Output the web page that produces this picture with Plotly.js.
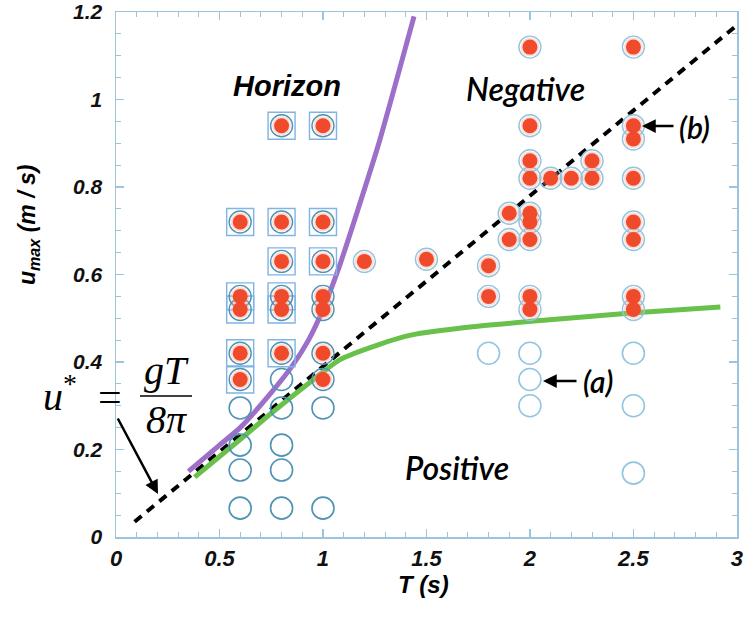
<!DOCTYPE html>
<html>
<head>
<meta charset="utf-8">
<script src="https://cdn.plot.ly/plotly-3.0.1.min.js"></script>
<style>html,body{margin:0;padding:0;background:#fff;}#chart{width:744px;height:620px;}</style>
</head>
<body>
<div id="chart"></div>
<script>
// ---- data ----
var filledT = [0.6,0.6,0.6,0.6,0.6,
               0.8,0.8,0.8,0.8,0.8,0.8,
               1.0,1.0,1.0,1.0,1.0,1.0,1.0,
               1.2,1.5,1.8,1.8,1.9,1.9,
               2.0,2.0,2.0,2.0,2.0,2.0,2.0,2.0,2.0,
               2.1,2.2,2.3,2.3,
               2.5,2.5,2.5,2.5,2.5,2.5,2.5,2.5];
var filledU = [0.72,0.55,0.52,0.42,0.36,
               0.94,0.72,0.63,0.55,0.52,0.42,
               0.94,0.72,0.63,0.55,0.52,0.42,0.36,
               0.63,0.635,0.62,0.55,0.74,0.68,
               1.12,0.94,0.86,0.82,0.74,0.72,0.68,0.55,0.52,
               0.82,0.82,0.86,0.82,
               1.12,0.94,0.91,0.82,0.72,0.68,0.55,0.52];
var openT = [0.6,0.6,0.6,0.6,
             0.8,0.8,0.8,0.8,0.8,
             1.0,1.0,
             1.8,2.0,2.0,2.0,
             2.5,2.5,2.5];
var openU = [0.295,0.21,0.153,0.066,
             0.36,0.295,0.21,0.153,0.066,
             0.295,0.066,
             0.42,0.42,0.36,0.30,
             0.42,0.30,0.146];
var squareT = [0.6,0.6,0.6,0.6,0.6, 0.8,0.8,0.8,0.8,0.8,0.8, 1.0,1.0,1.0];
var squareU = [0.72,0.55,0.52,0.42,0.36, 0.94,0.72,0.63,0.55,0.52,0.42, 0.94,0.72,0.63];
var purpleT = [0.35,0.5,0.6,0.75,0.85,0.93,1.0,1.08,1.17,1.27,1.44];
var purpleU = [0.15,0.21,0.25,0.33,0.39,0.45,0.52,0.62,0.75,0.90,1.19];
var greenT = [0.38,0.6,0.75,0.97,1.08,1.27,1.43,1.71,2.08,2.49,2.92];
var greenU = [0.137,0.223,0.283,0.366,0.405,0.440,0.462,0.480,0.496,0.512,0.526];
var dashT = [0.09,3.0];
var dashU = [0.035,1.17];
var xTickVals = [0,0.5,1,1.5,2,2.5,3];
var xTickText = ['0','0.5','1','1.5','2','2.5','3'];
var yTickVals = [0,0.2,0.4,0.6,0.8,1,1.2];
var yTickText = ['0','0.2','0.4','0.6','0.8','1','1.2'];

// ---- helpers ----
var L = 116, R = 737, T0 = 12, B = 537;
function PX(p){ return (p - L) / (R - L); }
function PY(p){ return (B - p) / (B - T0); }
function ringColor(t){ return t <= 1.0 ? '#4f93b6' : '#92c5e0'; }

var traces = [];
traces.push({x: dashT, y: dashU, mode: 'lines', line: {color: '#000', width: 4, dash: '9px,7px'}, hoverinfo: 'skip'});
traces.push({x: purpleT, y: purpleU, mode: 'lines', line: {color: '#9d6fc9', width: 5, shape: 'spline', smoothing: 0.6}, hoverinfo: 'skip'});
traces.push({x: greenT, y: greenU, mode: 'lines', line: {color: '#69c04a', width: 5, shape: 'spline', smoothing: 0.6}, hoverinfo: 'skip'});
traces.push({x: squareT, y: squareU, mode: 'markers', marker: {symbol: 'square-open', size: 27, color: '#7fb4e6', line: {width: 1.4, color: '#7fb4e6'}}, hoverinfo: 'skip'});
traces.push({x: openT, y: openU, mode: 'markers', marker: {symbol: 'circle-open', size: 22, color: openT.map(ringColor), line: {width: 1.6}}, hoverinfo: 'skip'});
traces.push({x: filledT, y: filledU, mode: 'markers', marker: {symbol: 'circle-open', size: 22, color: filledT.map(ringColor), line: {width: 1.4}}, hoverinfo: 'skip'});
traces.push({x: filledT, y: filledU, mode: 'markers', marker: {symbol: 'circle', size: 19, color: 'rgba(248,160,140,0.35)', line: {width: 0}}, hoverinfo: 'skip'});
traces.push({x: filledT, y: filledU, mode: 'markers', marker: {symbol: 'circle', size: 15, color: '#ef4a2b', line: {width: 0}}, hoverinfo: 'skip'});

var axisCommon = {
  showline: true, mirror: 'ticks', linecolor: '#9cc4df', linewidth: 1.5,
  ticks: 'inside', ticklen: 8, tickwidth: 1.2, tickcolor: '#9cc4df',
  showgrid: false, zeroline: false
};
var xaxis = Object.assign({}, axisCommon, {range: [0, 3.0005], tickmode: 'array', tickvals: xTickVals, ticktext: xTickText, ticklabelstandoff: 1,
  tickfont: {family: 'Liberation Sans, Arial, sans-serif', size: 22, color: '#111', style: 'italic', weight: 'bold'},
  minor: {dtick: 0.1, ticks: 'inside', ticklen: 5, tickcolor: '#9cc4df', tickwidth: 1}});
var yaxis = Object.assign({}, axisCommon, {range: [0, 1.2002], tickmode: 'array', tickvals: yTickVals, ticktext: yTickText, ticklabelstandoff: 8,
  tickfont: {family: 'Liberation Sans, Arial, sans-serif', size: 21, color: '#111', style: 'italic', weight: 'bold'},
  minor: {dtick: 0.05, ticks: 'inside', ticklen: 5, tickcolor: '#9cc4df', tickwidth: 1}});

var gill = 'Lato, Open Sans, sans-serif';
var serif = 'Liberation Serif, DejaVu Serif, serif';
function txt(text, px, py, font, extra){
  return Object.assign({text: text, xref: 'paper', yref: 'paper', x: PX(px), y: PY(py), xanchor: 'center', yanchor: 'middle', showarrow: false, font: font}, extra || {});
}
function arrow(hx, hy, tx, ty){
  return {text: '', xref: 'paper', yref: 'paper', x: PX(hx), y: PY(hy), axref: 'pixel', ayref: 'pixel', ax: tx - hx, ay: ty - hy,
    showarrow: true, arrowhead: 2, arrowsize: 1.1, arrowwidth: 2.5, arrowcolor: '#000'};
}

var annotations = [
  txt('Horizon', 287, 86, {family: 'Liberation Sans, Arial, sans-serif', size: 29, color: '#000', style: 'italic', weight: 'bold'}),
  txt('Negative', 525, 88, {family: gill, size: 32, color: '#000', style: 'italic', weight: 600}),
  txt('Positive', 457, 467, {family: gill, size: 32, color: '#000', style: 'italic', weight: 600}),
  txt('(b)', 694, 127, {family: gill, size: 30, color: '#000', style: 'italic', weight: 600}),
  txt('(a)', 598, 381, {family: gill, size: 30, color: '#000', style: 'italic', weight: 600}),
  arrow(642, 126, 675, 126),
  arrow(543, 381, 578, 381),
  arrow(158, 494, 117, 417),
  txt('<i>u</i><sup>*</sup>', 60, 393, {family: serif, size: 40, color: '#000'}),
  txt('=', 110, 397, {family: serif, size: 42, color: '#000'}),
  txt('<i>gT</i>', 166, 370, {family: serif, size: 40, color: '#000'}),
  txt('<i>8π</i>', 166, 419, {family: serif, size: 40, color: '#000'}),
  txt('<b><i>T (s)</i></b>', 423, 584, {family: 'Liberation Sans, Arial, sans-serif', size: 24, color: '#000'}),
  txt('<b><i>u<sub>max</sub> (m / s)</i></b>', 28, 225, {family: 'Liberation Sans, Arial, sans-serif', size: 23, color: '#000'}, {textangle: -90})
];

var shapes = [
  {type: 'line', xref: 'paper', yref: 'paper', x0: PX(140), x1: PX(192), y0: PY(396), y1: PY(396), line: {color: '#000', width: 1.5}}
];

var layout = {
  width: 744, height: 620,
  margin: {l: L, r: 744 - R, t: T0, b: 620 - B},
  paper_bgcolor: '#fff', plot_bgcolor: '#fff',
  showlegend: false,
  xaxis: xaxis, yaxis: yaxis,
  annotations: annotations, shapes: shapes
};

Plotly.newPlot('chart', traces, layout, {staticPlot: true, displayModeBar: false});
</script>
</body>
</html>
